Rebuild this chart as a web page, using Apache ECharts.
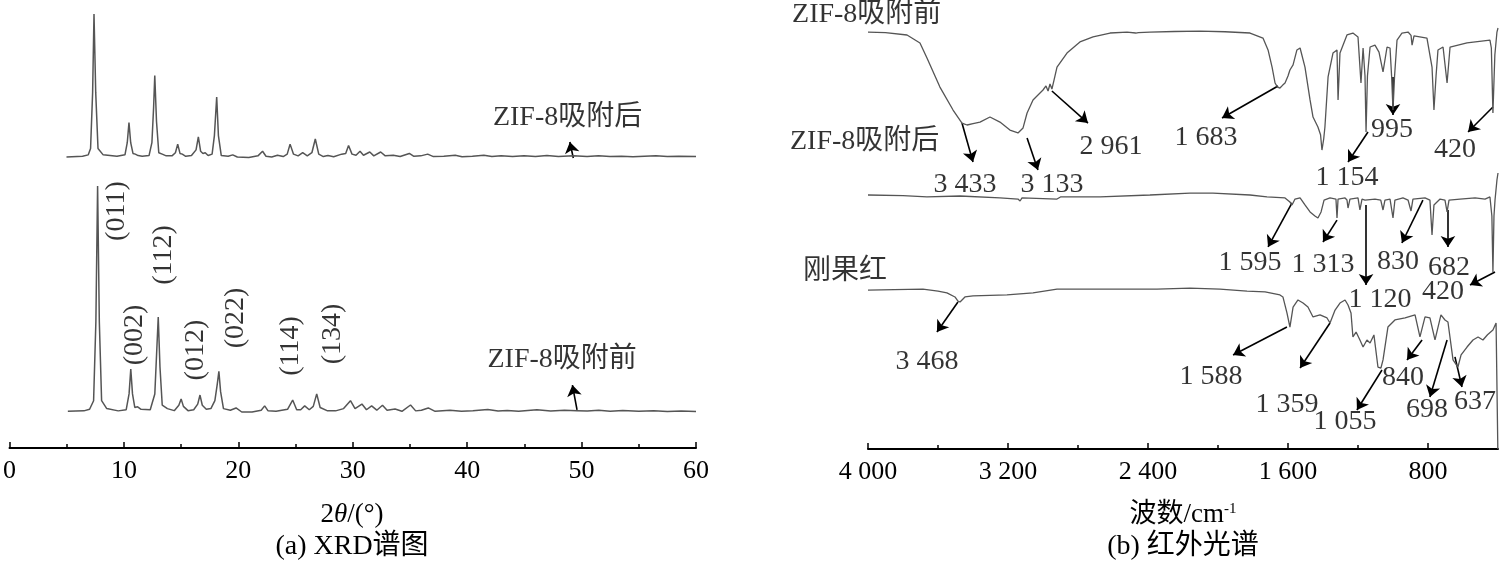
<!DOCTYPE html>
<html><head><meta charset="utf-8">
<script src="https://cdn.jsdelivr.net/npm/echarts@6/dist/echarts.min.js"></script>
<style>html,body{margin:0;padding:0;background:#fff}#c{width:1500px;height:566px}</style>
</head><body><div id="c"></div>
<script>
// ---------- DATA ----------
const xrdTicks = [0, 10, 20, 30, 40, 50, 60];
const irTicks = [4000, 3200, 2400, 1600, 800];
const irMinorTicks = [3600, 2800, 2000, 1200];

// XRD after adsorption: [2theta, relative intensity]
const xrdAfter = [[5.1,0],[6.5,0.5],[7.0,1.5],[7.2,6],[7.38,45],[7.5,100],[7.65,45],[7.85,6],[8.3,1.5],[9.5,0.5],[10.2,1.5],[10.4,10],[10.55,24],[10.7,10],[10.9,2.5],[11.1,2],[11.35,1],[11.7,0.5],[12.3,1],[12.55,10],[12.7,35],[12.8,57],[12.95,25],[13.15,3],[13.45,2],[13.8,0.8],[14.3,0.8],[14.6,3],[14.8,9],[15.0,2.5],[15.2,2],[15.5,0.5],[16.0,1],[16.4,5],[16.6,14],[16.8,4],[17.0,2.5],[17.2,3],[17.45,1],[17.8,2],[18.0,15],[18.2,42],[18.35,15],[18.6,1],[19.2,0.5],[19.6,1.5],[20.0,0],[21.0,-0.3],[21.8,0.8],[22.2,4],[22.5,0.5],[23.0,0],[23.5,1.2],[24.0,0.3],[24.35,2],[24.6,9],[24.9,2],[25.3,0.8],[25.7,3],[26.1,0.8],[26.5,3],[26.8,12.6],[27.1,2],[27.5,0.3],[27.9,1],[28.4,0.2],[29.1,2],[29.45,2.5],[29.7,8],[30.0,2],[30.35,1.2],[30.7,4],[31.0,1.2],[31.55,3.5],[31.9,0.8],[32.5,3.5],[32.9,0.8],[33.6,1.2],[34.2,0.3],[35.0,2.5],[35.4,0.5],[36.0,0.8],[36.6,2],[37.1,0.3],[38.0,0.6],[39.0,1.2],[39.6,0.2],[40.5,0.6],[41.5,1.3],[42.2,0.3],[43.0,0.8],[44.0,0.4],[45.0,0.8],[46.0,0.3],[47.0,1],[48.0,0.3],[49.3,0.8],[50.5,0.3],[51.5,0.8],[52.5,0.4],[53.5,0.6],[54.5,0.2],[55.5,0.6],[56.5,0.8],[57.5,0.3],[58.5,0.5],[60,0.3]];

// XRD before adsorption
const xrdBefore = [[5.1,0.3],[6.5,0.5],[7.0,1.2],[7.35,5],[7.55,40],[7.7,100],[7.85,40],[8.05,5],[8.5,1.5],[9.5,0.5],[10.2,1],[10.45,8],[10.6,19],[10.75,8],[10.95,2],[11.2,2.3],[11.5,1.2],[12.3,1],[12.7,8],[12.85,25],[13.0,42],[13.15,20],[13.35,3],[13.8,1.5],[14.4,0.6],[14.8,3],[15.0,5.8],[15.2,2.5],[15.6,0.6],[16.1,1],[16.45,3.5],[16.65,7.5],[16.85,3],[17.2,1.2],[17.6,1.5],[17.95,5],[18.15,12],[18.3,18],[18.45,9],[18.7,1.5],[19.3,0.8],[19.8,1.8],[20.3,0],[21.2,0],[22.0,0.8],[22.3,2.7],[22.6,0.5],[23.3,0.3],[24.3,1.2],[24.75,5.3],[25.1,1],[25.45,1],[25.8,2.7],[26.2,1],[26.55,2.5],[26.85,8],[27.15,2],[27.8,0.5],[28.5,0.5],[29.2,1.5],[29.8,5],[30.2,1.5],[30.8,3.5],[31.2,1],[31.65,2.7],[32.1,0.8],[32.6,3],[33.0,0.8],[33.7,1.3],[34.3,0.3],[35.05,3.1],[35.5,0.5],[36.0,0.8],[36.6,1.8],[37.2,0.3],[38.5,0.8],[39.5,0.3],[40.5,0.5],[41.8,1.1],[42.7,0.4],[43.5,0.7],[44.5,0.3],[46.1,1],[47.3,0.4],[48.5,0.8],[49.6,0.6],[50.5,0.4],[51.5,0.8],[52.5,0.3],[53.6,0.7],[55,0.3],[56.3,0.5],[57.5,0.2],[58.7,0.4],[60,0.2]];

// IR spectra: [wavenumber, transmittance (arb.)]
const irBefore = [[4000,91.4],[3900,91],[3777,89.3],[3703,83.6],[3663,72.9],[3589,52.1],[3514,35.7],[3463,26.4],[3434,25.0],[3400,26],[3360,27.1],[3303,30.7],[3246,27.1],[3189,21.4],[3143,19.3],[3114,22.9],[3091,33.6],[3057,42.9],[3000,50],[2983,52.9],[2971,49.3],[2960,54.3],[2949,50.7],[2937,57.1],[2920,66.4],[2863,76.4],[2789,84.3],[2714,87.9],[2617,90.7],[2520,91.4],[2470,90.7],[2463,89.6],[2455,91],[2389,91.4],[2250,91.8],[2103,92.1],[1960,91.6],[1817,90.7],[1743,87.1],[1714,78.6],[1691,66.4],[1674,55],[1660,52],[1646,51.4],[1630,53.5],[1617,55],[1600,60],[1589,64.3],[1580,63],[1571,67.9],[1549,78.6],[1531,80],[1503,66.4],[1474,42.9],[1457,30.7],[1429,23.6],[1414,18],[1406,7.1],[1396,15],[1389,23.6],[1371,59.3],[1343,76.4],[1320,78.6],[1314,42.9],[1303,76.4],[1263,89.3],[1229,90.7],[1200,87.9],[1183,55],[1171,80],[1160,60],[1154,20],[1146,60],[1131,80.7],[1103,82.1],[1080,77.1],[1057,62.9],[1034,80.7],[1017,80],[1008,60],[1000,35.7],[991,60],[977,85.7],[949,90.7],[914,91.4],[897,89],[891,82.1],[880,88.6],[806,87.1],[777,66.4],[766,35.7],[754,60],[743,78.6],[714,80.7],[691,55],[674,80.7],[577,83.6],[446,85.7],[438,80],[429,33.6],[418,75],[406,91.4],[400,94.3]];

const irAfter = [[4000,75],[3800,74.5],[3663,73.6],[3474,74.3],[3246,72.9],[3143,72.1],[3131,70.7],[3120,72.9],[2920,72.1],[2900,73.6],[2674,73.6],[2389,75],[2160,76.4],[2029,76.4],[1817,75],[1720,73.6],[1617,72.9],[1589,70],[1577,67.9],[1560,72.1],[1531,72.9],[1503,67.9],[1474,62.9],[1446,60],[1429,58.6],[1411,62.9],[1394,71.4],[1360,72.9],[1326,72.1],[1320,58.6],[1314,72.1],[1274,72.9],[1263,71.4],[1257,65.7],[1246,72.1],[1200,72.9],[1189,64.3],[1177,72.1],[1160,71.4],[1103,72.1],[1070,71.4],[1057,64.3],[1046,71.4],[1017,72.1],[1000,58.6],[989,71.4],[943,72.9],[914,71.4],[897,63.6],[886,72.1],[817,72.9],[789,71.4],[777,46.4],[766,67.9],[731,72.1],[703,71.4],[691,62.9],[680,71.4],[617,72.1],[531,72.9],[474,72.1],[446,73.6],[435,60],[429,20],[423,60],[417,71.4],[406,85.7],[400,90.7]];

const irCongo = [[4000,94.6],[3850,94.9],[3686,95.2],[3600,94],[3549,92.9],[3503,90.5],[3486,88],[3474,87.5],[3446,90.5],[3400,91.1],[3206,91.7],[3057,92.9],[2920,95.2],[2634,95.2],[2349,95.2],[2160,95.8],[1989,95.2],[1834,94],[1731,93.5],[1646,91.7],[1629,90.5],[1606,81],[1589,72.6],[1571,84.5],[1543,88.7],[1514,86.9],[1486,84.5],[1457,78.6],[1417,79.8],[1377,78],[1360,75],[1331,82.7],[1303,86.9],[1274,88.7],[1257,85.7],[1240,81],[1229,66.7],[1211,69.6],[1189,64.9],[1171,60.7],[1149,64.9],[1131,63.1],[1109,67.9],[1103,69],[1086,48.8],[1069,48.2],[1057,53],[1029,72.6],[989,76.8],[931,78],[874,79.8],[846,66.7],[817,78.6],[789,78],[760,64.9],[726,79.8],[703,76.8],[686,75.6],[657,53],[629,48.8],[611,56],[577,60.7],[543,64.9],[514,66.7],[486,64.9],[460,68],[429,70.8],[411,75],[403,76],[401,0]];

// Annotations: [text, x, y] and arrows [x1, y1, x2, y2] in data units
const hklLabels = [['(011)',9.33,88.9],['(002)',10.9,34.1],['(112)',13.43,69.5],['(012)',16.3,27.4],['(022)',19.8,41.6],['(114)',24.6,29.2],['(134)',28.25,34.5]];
const xrdAfterNote = [['ZIF-8吸附后',48.8,27.3]];
const xrdAfterArrow = [[49.3,-0.7,49.0,10.5]];
const xrdBeforeNote = [['ZIF-8吸附前',48.3,23]];
const xrdBeforeArrow = [[49.6,0.9,49.2,11.9]];

const irBeforeName = [['ZIF-8吸附前',4434,103.6]];
const irBeforeLabels = [['3 433',3446,-17.9],['3 133',2949,-17.9],['2 961',2611,9.3],['1 683',2069,15.7],['995',1006,21.4],['420',646,7.1],['1 154',1263,-12.9]];
const irBeforeArrows = [[3463,26.4,3400,-1.4],[3091,15.7,3029,-7.1],[2949,49.3,2743,26.4],[1657,52.9,1977,30],[1000,59.3,1000,32.1],[429,37.9,571,20],[1143,20,1257,-1.4]];

const irAfterName = [['ZIF-8吸附后',4446,112.9]];
const irAfterLabels = [['1 595',1817,26.4],['1 313',1400,25],['830',971,27.1],['682',680,22.9],['420',714,5.7],['1 120',1074,0]];
const irAfterArrows = [[1577,69.3,1714,37.9],[1320,57.1,1400,41.4],[829,71.4,949,40.7],[686,64.3,686,37.9],[417,20,560,10.7],[1154,67.9,1154,10.7]];

const congoName = [['刚果红',4371,105.4]];
const congoLabels = [['3 468',3663,51.8],['1 588',2040,42.9],['1 359',1606,26.2],['1 055',1274,16.1],['840',943,42.3],['698',806,23.2],['637',531,28]];
const congoArrows = [[3486,87.5,3606,69.6],[1606,72.6,1914,56],[1360,75,1531,48.2],[1063,47,1206,23.2],[834,64.9,920,53],[691,64.9,789,31],[646,54.8,606,36.9]];

// ---------- CHART ----------
const FONT = "'Liberation Serif','Times New Roman','Noto Sans CJK SC',serif";
const TXT = '#000';
const CURVE = '#555';

function curve(data, idx, w) {
  return { type: 'line', data: data, xAxisIndex: idx, yAxisIndex: idx, showSymbol: false, symbol: 'none',
    clip: false, animation: false, silent: true, lineStyle: { color: CURVE, width: w } };
}
function labels(items, idx, extra) {
  extra = extra || {};
  return { type: 'scatter', xAxisIndex: idx, yAxisIndex: idx, symbolSize: 0, clip: false, silent: true, animation: false,
    data: items.map(d => ({ name: d[0], value: [d[1], d[2]] })),
    label: Object.assign({ show: true, formatter: '{b}', position: [0, 0], align: 'center', verticalAlign: 'middle',
      fontFamily: FONT, fontSize: 28, color: TXT }, extra) };
}
function arrows(items, idx) {
  return { type: 'lines', coordinateSystem: 'cartesian2d', xAxisIndex: idx, yAxisIndex: idx, clip: false, silent: true, animation: false,
    symbol: ['none', 'arrow'], symbolSize: 11,
    lineStyle: { color: '#000', width: 1.6, opacity: 1 },
    data: items.map(a => ({ coords: [[a[0], a[1]], [a[2], a[3]]] })) };
}
const fmtIr = v => v >= 1000 ? Math.floor(v / 1000) + ' ' + String(v % 1000).padStart(3, '0') : String(v);

const hiddenX = (g, mn, mx, inv) => ({ gridIndex: g, type: 'value', min: mn, max: mx, inverse: !!inv, show: false });
const hiddenY = (g, mn, mx) => ({ gridIndex: g, type: 'value', min: mn, max: mx, show: false });

const option = {
  backgroundColor: '#fff',
  animation: false,
  grid: [
    { left: 8, right: 804, top: 14, height: 143 },
    { left: 8, right: 804, top: 186, height: 226 },
    { left: 868, right: 2, top: 20, height: 140 },
    { left: 868, right: 2, top: 160, height: 140 },
    { left: 868, right: 2, top: 281, height: 168 }
  ],
  xAxis: [
    hiddenX(0, 0, 60),
    { gridIndex: 1, type: 'value', min: xrdTicks[0], max: xrdTicks[xrdTicks.length - 1], interval: 10, offset: 36,
      axisLine: { show: true, onZero: false, lineStyle: { color: '#000', width: 2 } },
      axisTick: { show: true, inside: true, length: 6, lineStyle: { color: '#000', width: 1.5 } },
      minorTick: { show: true, splitNumber: 2, length: 4, lineStyle: { color: '#000', width: 1.5 } },
      splitLine: { show: false },
      axisLabel: { margin: 10, fontFamily: FONT, fontSize: 26, color: TXT, showMinLabel: true, showMaxLabel: true } },
    hiddenX(2, 400, 4000, true),
    hiddenX(3, 400, 4000, true),
    { gridIndex: 4, type: 'value', min: 400, max: 4000, inverse: true, position: 'bottom',
      axisLine: { show: true, onZero: false, lineStyle: { color: '#000', width: 2 } },
      axisTick: { show: true, inside: true, length: 6, customValues: irTicks, lineStyle: { color: '#000', width: 1.5 } },
      splitLine: { show: false },
      axisLabel: { margin: 10, fontFamily: FONT, fontSize: 26, color: TXT, customValues: irTicks, formatter: fmtIr } },
    { gridIndex: 4, type: 'value', min: 400, max: 4000, inverse: true, position: 'bottom',
      axisLine: { show: false, onZero: false },
      axisTick: { show: true, inside: true, length: 4, customValues: irMinorTicks, lineStyle: { color: '#000', width: 1.5 } },
      splitLine: { show: false },
      axisLabel: { show: false } }
  ],
  yAxis: [
    hiddenY(0, 0, 100), hiddenY(1, 0, 100), hiddenY(2, 0, 100), hiddenY(3, 0, 100), hiddenY(4, 0, 100)
  ],
  series: [
    curve(xrdAfter, 0, 1.5),
    curve(xrdBefore, 1, 1.5),
    curve(irBefore, 2, 1.3),
    curve(irAfter, 3, 1.3),
    curve(irCongo, 4, 1.3),
    labels(hklLabels, 1, { rotate: 90 }),
    labels(xrdAfterNote, 0), arrows(xrdAfterArrow, 0),
    labels(xrdBeforeNote, 1), arrows(xrdBeforeArrow, 1),
    labels(irBeforeName, 2, { align: 'left' }), labels(irBeforeLabels, 2), arrows(irBeforeArrows, 2),
    labels(irAfterName, 3, { align: 'left' }), labels(irAfterLabels, 3), arrows(irAfterArrows, 3),
    labels(congoName, 4, { align: 'left' }), labels(congoLabels, 4), arrows(congoArrows, 4)
  ],
  graphic: [
    { type: 'text', x: 352, y: 515, silent: true, style: { text: '{a|2}{i|θ}{a|/(°)}', align: 'center', verticalAlign: 'middle',
      rich: { a: { fontFamily: FONT, fontSize: 27, fill: TXT }, i: { fontFamily: FONT, fontSize: 27, fontStyle: 'italic', fill: TXT } } } },
    { type: 'text', x: 352, y: 547, silent: true, style: { text: '(a) XRD谱图', align: 'center', verticalAlign: 'middle',
      font: "28px " + FONT, fill: TXT } },
    { type: 'text', x: 1183, y: 515, silent: true, style: { text: '{a|波数/cm}{s|-1}', align: 'center', verticalAlign: 'middle',
      rich: { a: { fontFamily: FONT, fontSize: 27, fill: TXT }, s: { fontFamily: FONT, fontSize: 15, fill: TXT, verticalAlign: 'top' } } } },
    { type: 'text', x: 1183, y: 547, silent: true, style: { text: '(b) 红外光谱', align: 'center', verticalAlign: 'middle',
      font: "28px " + FONT, fill: TXT } }
  ]
};

const chart = echarts.init(document.getElementById('c'), null, { renderer: 'canvas' });
chart.setOption(option);
</script></body></html>
